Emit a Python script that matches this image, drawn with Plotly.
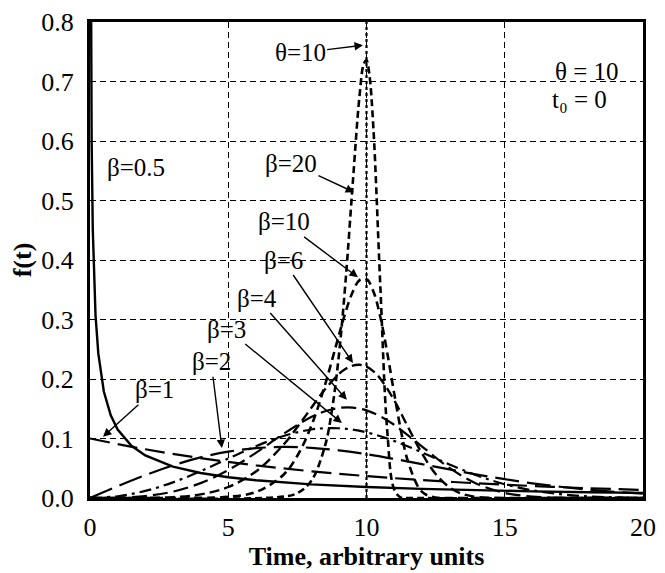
import plotly.graph_objects as go

theta = 10
y_limits = [0, 0.8]

# Weibull pdf curves (t, f(t))
t_b05 = [0.02, 0.04, 0.06, 0.1, 0.15, 0.2, 0.3, 0.5, 0.75, 1, 1.5, 2, 3, 4, 5, 6, 8, 10, 12, 14, 16, 18, 20]
f_b05 = [1.069, 0.742, 0.597, 0.452, 0.361, 0.307, 0.243, 0.179, 0.139, 0.115, 0.0877, 0.0715, 0.0528, 0.0420,
         0.0349, 0.0298, 0.0229, 0.0184, 0.0153, 0.0129, 0.0112, 0.0097, 0.0086]

t_b1 = [0, 2, 4, 6, 8, 10, 12, 14, 16, 18, 20]
f_b1 = [0.100, 0.0819, 0.0670, 0.0549, 0.0449, 0.0368, 0.0301, 0.0247, 0.0202, 0.0165, 0.0135]

t_b2 = [0, 1, 2, 3, 4, 5, 6, 7, 8, 9, 10, 11, 12, 13, 14, 15, 16, 17, 18, 19, 20]
f_b2 = [0, 0.0198, 0.0384, 0.0548, 0.0682, 0.0779, 0.0837, 0.0858, 0.0844, 0.0801, 0.0736, 0.0656,
        0.0569, 0.0480, 0.0394, 0.0316, 0.0247, 0.0189, 0.0141, 0.0103, 0.0073]

t_b3 = [0, 1, 2, 3, 4, 5, 6, 7, 8, 8.5, 9, 9.5, 10, 11, 12, 13, 14, 15, 16, 17, 18, 19, 20]
f_b3 = [0, 0.0030, 0.0119, 0.0263, 0.0450, 0.0662, 0.0870, 0.1043, 0.1151, 0.1173, 0.1172, 0.1149, 0.1104,
        0.0959, 0.0767, 0.0564, 0.0378, 0.0231, 0.0128, 0.0064, 0.0029, 0.0011, 0.0004]

t_b4 = [0, 1, 2, 3, 4, 5, 6, 7, 8, 8.5, 9, 9.5, 10, 10.5, 11, 12, 13, 14, 15, 16, 17, 18, 20]
f_b4 = [0, 0.0004, 0.0032, 0.0107, 0.0250, 0.0470, 0.0759, 0.1079, 0.1360, 0.1458, 0.1513, 0.1519, 0.1472,
        0.1373, 0.1231, 0.0869, 0.0505, 0.0236, 0.0086, 0.0023, 0.0005, 0.0001, 0]

t_b6 = [0, 2, 3, 4, 5, 6, 7, 7.5, 8, 8.5, 9, 9.25, 9.5, 9.75, 10, 10.25, 10.5, 11, 11.5, 12, 12.5, 13, 13.5, 14, 15, 16, 20]
f_b6 = [0, 0.0002, 0.0015, 0.0061, 0.0185, 0.0445, 0.0897, 0.1192, 0.1513, 0.1826, 0.2083, 0.2172, 0.2226,
        0.2239, 0.2207, 0.2129, 0.2005, 0.1644, 0.1194, 0.0754, 0.0404, 0.0179, 0.0063, 0.0017, 0.0001, 0, 0]

t_b10 = [0, 4, 5, 6, 7, 7.5, 8, 8.5, 9, 9.25, 9.5, 9.75, 10, 10.25, 10.5, 10.75, 11, 11.25, 11.5, 12, 12.5, 13, 20]
f_b10 = [0, 0.0003, 0.0020, 0.0100, 0.0392, 0.0710, 0.1206, 0.1902, 0.2734, 0.3134, 0.3463, 0.3663, 0.3679,
         0.3472, 0.3043, 0.2441, 0.1763, 0.1122, 0.0616, 0.0106, 0.0007, 0, 0]

t_b20 = [0, 7, 7.5, 8, 8.5, 8.75, 9, 9.25, 9.5, 9.75, 9.9, 10, 10.1, 10.25, 10.5, 10.75, 11, 11.25, 11.5, 20]
f_b20 = [0, 0.0023, 0.0084, 0.0285, 0.0877, 0.1476, 0.2392, 0.3685, 0.5273, 0.6767, 0.7293, 0.7358, 0.7132,
         0.6211, 0.3559, 0.1130, 0.0146, 0.0005, 0, 0]

x_ticks = [0, 5, 10, 15, 20]
y_ticks = [0.0, 0.1, 0.2, 0.3, 0.4, 0.5, 0.6, 0.7, 0.8]

SERIF = "Liberation Serif"
tick_font = dict(family=SERIF, size=26, color="black")
title_font = dict(family=SERIF, size=26, color="black")
tf = dict(family=SERIF, size=25, color="black")

fig = go.Figure()

series = [
    (t_b05, f_b05, "solid", "linear", 2.4),
    (t_b1, f_b1, "20px,8px", "spline", 2.2),
    (t_b2, f_b2, "24px,8px", "spline", 2.2),
    (t_b3, f_b3, "12px,5px,3px,5px", "spline", 2.2),
    (t_b4, f_b4, "15px,6px", "spline", 2.2),
    (t_b6, f_b6, "10px,5px", "spline", 2.4),
    (t_b10, f_b10, "8px,5px", "spline", 2.6),
    (t_b20, f_b20, "7px,4px", "spline", 2.6),
]
for tx, fy, dash, shape, w in series:
    fig.add_trace(go.Scatter(x=tx, y=fy, mode="lines",
                             line=dict(color="black", width=w, dash=dash, shape=shape)))

# theta marker line
fig.add_trace(go.Scatter(x=[theta, theta], y=y_limits, mode="lines",
                         line=dict(color="black", width=2.2, dash="dot")))


def lab(text, x, y, hx=None, hy=None):
    if hx is None:
        fig.add_annotation(x=x, y=y, text=text, showarrow=False, font=tf, xref="x", yref="y")
    else:
        fig.add_annotation(x=hx, y=hy, ax=x, ay=y, text=text, showarrow=True, arrowhead=2,
                           arrowsize=1.2, arrowwidth=1.4, arrowcolor="black",
                           axref="x", ayref="y", xref="x", yref="y", standoff=0, font=tf)


lab("θ=10", 7.6, 0.748, 9.87, 0.761)
lab("β=0.5", 1.66, 0.556)
lab("β=20", 7.27, 0.563, 9.55, 0.514)
lab("β=10", 7.02, 0.464, 9.69, 0.371)
lab("β=6", 6.98, 0.400, 9.51, 0.227)
lab("β=4", 6.04, 0.336, 9.29, 0.165)
lab("β=3", 4.95, 0.284, 9.11, 0.126)
lab("β=2", 4.38, 0.229, 4.77, 0.084)
lab("β=1", 2.35, 0.182, 0.47, 0.103)
lab("θ = 10", 17.97, 0.716)
lab("t₀ = 0", 17.72, 0.669)

fig.update_layout(
    width=657, height=565,
    margin=dict(l=82, r=22, t=14, b=75),
    paper_bgcolor="white", plot_bgcolor="white", showlegend=False,
    xaxis=dict(range=[0, 20], tickvals=x_ticks, tickfont=tick_font, automargin=False,
               showgrid=True, gridcolor="black", griddash="6px,4px",
               showline=True, linecolor="black", linewidth=3, mirror=True,
               zeroline=False, ticklabelstandoff=4,
               title=dict(text="<b>Time, arbitrary units</b>", font=title_font, standoff=2)),
    yaxis=dict(range=y_limits, tickvals=y_ticks, tickformat=".1f", tickfont=tick_font, automargin=False,
               showgrid=True, gridcolor="black", griddash="6px,4px",
               showline=True, linecolor="black", linewidth=3, mirror=True,
               zeroline=False, ticklabelstandoff=8,
               title=dict(text="<b>f(t)</b>", font=title_font, standoff=6)),
)

fig.write_html("out.html")
